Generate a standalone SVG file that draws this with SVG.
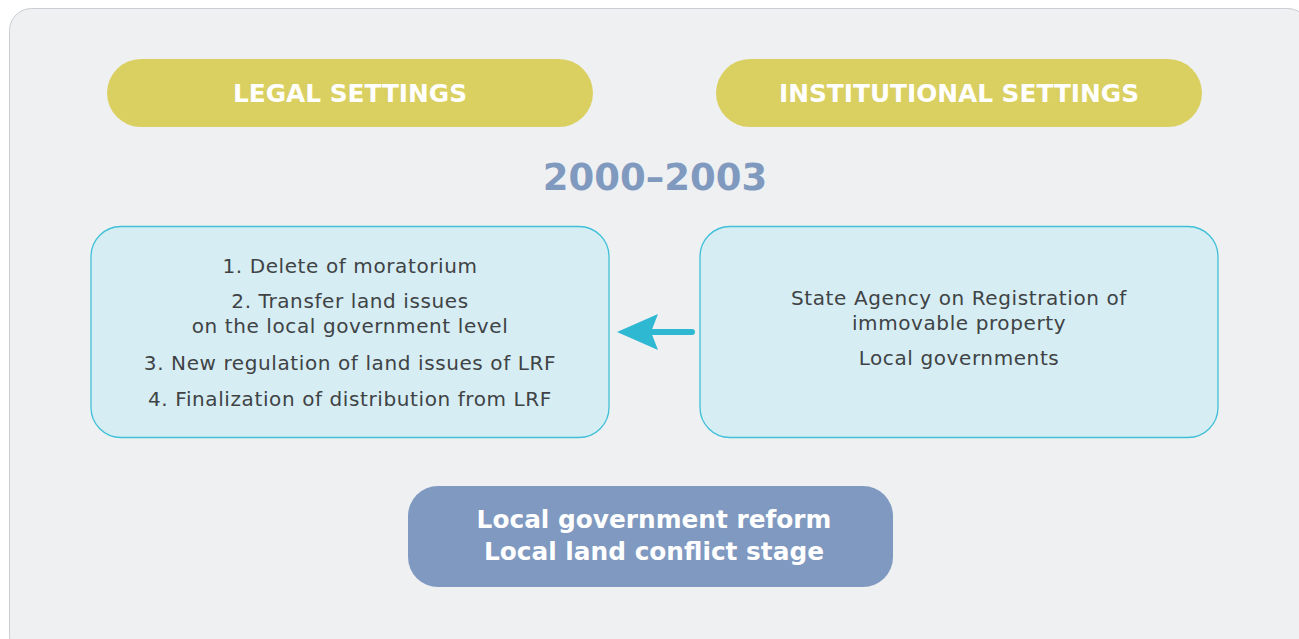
<svg xmlns="http://www.w3.org/2000/svg" width="1299" height="639" viewBox="0 0 1299 639">
<defs>
<style>
.pill{fill:#dad062}
.pt{font-family:"DejaVu Sans","Liberation Sans",sans-serif;font-weight:bold;font-size:24.8px;fill:#ffffff;text-anchor:middle}
.box{fill:#d5edf3;stroke:#3fc0d8;stroke-width:1.3}
.bt{font-family:"DejaVu Sans","Liberation Sans",sans-serif;font-size:20px;letter-spacing:0.6px;fill:#404345;text-anchor:middle}
.year{font-family:"DejaVu Sans","Liberation Sans",sans-serif;font-weight:bold;font-size:37px;fill:#7f99bf;text-anchor:middle}
.res{fill:#7f99c0}
.rt{font-family:"DejaVu Sans","Liberation Sans",sans-serif;font-weight:bold;font-size:24.8px;fill:#ffffff;text-anchor:middle}
</style>
</defs>
<rect x="0" y="0" width="1299" height="639" fill="#ffffff"/>
<rect id="panel" x="9.5" y="8.5" width="1300" height="650" rx="22" fill="#eff0f2" stroke="#c8ced3" stroke-width="1"/>
<g id="legal-settings">
<rect class="pill" x="107" y="59" width="486" height="68" rx="34"/>
<text class="pt" x="350" y="102">LEGAL SETTINGS</text>
</g>
<g id="institutional-settings">
<rect class="pill" x="716" y="59" width="486" height="68" rx="34"/>
<text class="pt" x="959" y="102">INSTITUTIONAL SETTINGS</text>
</g>
<g id="year">
<text class="year" x="655" y="190">2000–2003</text>
</g>
<g id="legal-box">
<rect class="box" x="91" y="226.5" width="518" height="211" rx="30"/>
<text class="bt" x="350" y="273">1. Delete of moratorium</text>
<text class="bt" x="350" y="308">2. Transfer land issues</text>
<text class="bt" x="350" y="333">on the local government level</text>
<text class="bt" x="350" y="370">3. New regulation of land issues of LRF</text>
<text class="bt" x="350" y="406">4. Finalization of distribution from LRF</text>
</g>
<g id="institutional-box">
<rect class="box" x="700" y="226.5" width="518" height="211" rx="30"/>
<text class="bt" x="959" y="305">State Agency on Registration of</text>
<text class="bt" x="959" y="330">immovable property</text>
<text class="bt" x="959" y="365">Local governments</text>
</g>
<g id="result">
<rect class="res" x="408" y="486" width="485" height="101" rx="30"/>
<text class="rt" x="654" y="528">Local government reform</text>
<text class="rt" x="654" y="560">Local land conflict stage</text>
</g>
<g id="connectors">
<line x1="692" y1="332" x2="650" y2="332" stroke="#2fb8d2" stroke-width="6" stroke-linecap="round"/>
<path d="M617 332 L658 314 L651 332 L658 350 Z" fill="#2fb8d2"/>
</g>
</svg>
